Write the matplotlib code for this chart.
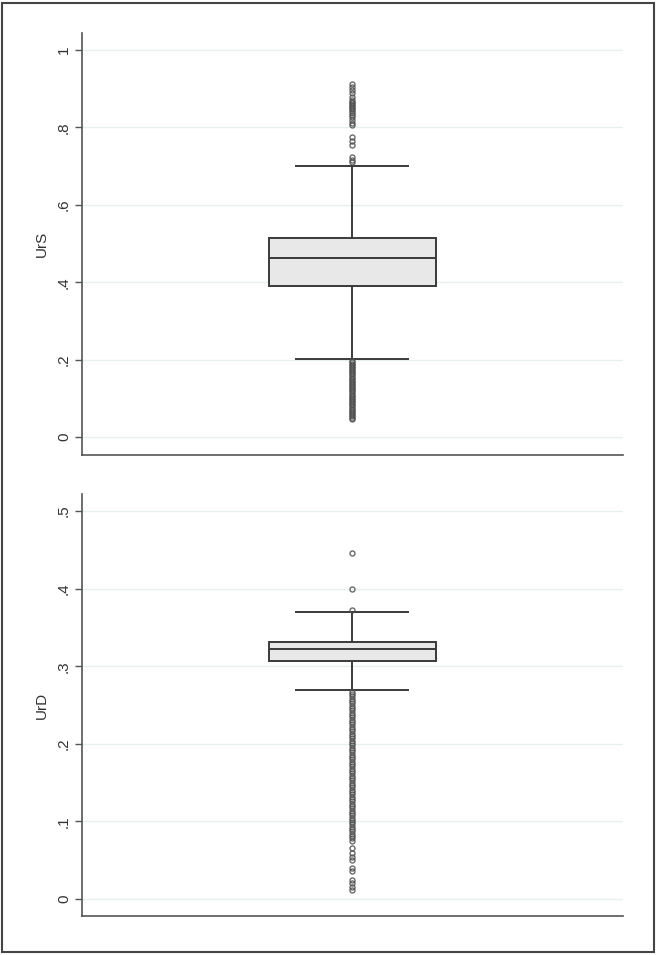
import matplotlib
matplotlib.use("Agg")
import matplotlib.pyplot as plt
from matplotlib.patches import Rectangle

plt.rcParams['font.family'] = ['Liberation Sans', 'DejaVu Sans']

# UrS box stats
urs_stats = dict(med=0.462, q1=0.390, q3=0.5135, whislo=0.201, whishi=0.700)
urs_high = [0.913, 0.905, 0.897, 0.889, 0.880, 0.872, 0.866, 0.862, 0.858, 0.855,
            0.851, 0.847, 0.843, 0.838, 0.832, 0.826, 0.820, 0.812, 0.806,
            0.775, 0.765, 0.755, 0.725, 0.717, 0.710]
urs_low = [0.198, 0.194, 0.190, 0.186, 0.182, 0.178, 0.174, 0.170, 0.166, 0.162,
           0.158, 0.154, 0.150, 0.146, 0.142, 0.138, 0.134, 0.130, 0.126, 0.122,
           0.118, 0.114, 0.110, 0.106, 0.102, 0.098, 0.094, 0.090, 0.086, 0.082,
           0.078, 0.074, 0.070, 0.066, 0.062, 0.058, 0.054, 0.050, 0.047]

# UrD box stats
urd_stats = dict(med=0.322, q1=0.3067, q3=0.331, whislo=0.269, whishi=0.370)
urd_high = [0.4457, 0.399, 0.372]
urd_low = [0.267, 0.264, 0.261, 0.258, 0.255, 0.252, 0.249, 0.246, 0.243, 0.240,
           0.237, 0.234, 0.231, 0.228, 0.225, 0.222, 0.219, 0.216, 0.213, 0.210,
           0.207, 0.204, 0.201, 0.198, 0.195, 0.192, 0.189, 0.186, 0.183, 0.180,
           0.177, 0.174, 0.171, 0.168, 0.165, 0.162, 0.159, 0.156, 0.153, 0.150,
           0.147, 0.144, 0.141, 0.138, 0.135, 0.132, 0.129, 0.126, 0.123, 0.120,
           0.117, 0.114, 0.111, 0.108, 0.105, 0.102, 0.099, 0.096, 0.093, 0.090,
           0.087, 0.084, 0.081, 0.078, 0.075, 0.066, 0.059, 0.054, 0.050, 0.040,
           0.036, 0.024, 0.021, 0.015, 0.012]

panels = [
    ("UrS", urs_stats, urs_high + urs_low, [0, 0.2, 0.4, 0.6, 0.8, 1.0],
     ["0", ".2", ".4", ".6", ".8", "1"], (-0.046, 1.044),
     [0.1248, 0.5236, 0.8232, 0.4418]),
    ("UrD", urd_stats, urd_high + urd_low, [0, 0.1, 0.2, 0.3, 0.4, 0.5],
     ["0", ".1", ".2", ".3", ".4", ".5"], (-0.022, 0.522),
     [0.1248, 0.0408, 0.8232, 0.4419]),
]

line_col = "#3a3a3a"
fig = plt.figure(figsize=(6.57, 9.55), dpi=100)

for name, stats, fliers, ticks, labels, ylim, pos in panels:
    ax = fig.add_axes(pos)
    st = dict(stats)
    st["fliers"] = fliers
    ax.bxp([st], positions=[0.5], widths=[0.31], capwidths=[0.207],
           patch_artist=True, showfliers=True,
           boxprops=dict(facecolor="#e8e8e8", edgecolor=line_col, linewidth=1.4),
           medianprops=dict(color=line_col, linewidth=1.4),
           whiskerprops=dict(color=line_col, linewidth=1.4),
           capprops=dict(color=line_col, linewidth=1.4),
           flierprops=dict(marker="o", markersize=3.6, markerfacecolor="none",
                           markeredgecolor="#505050", markeredgewidth=1.0,
                           alpha=0.85))
    ax.set_xlim(0, 1)
    ax.set_ylim(*ylim)
    ax.set_xticks([])
    ax.set_yticks(ticks)
    ax.set_yticklabels(labels, rotation=90, va="center", fontsize=11, color="#333333")
    ax.tick_params(axis="y", length=5, width=1, color="#555555", pad=3)
    ax.grid(axis="y", color="#e6f0f1", linewidth=1)
    ax.set_axisbelow(True)
    for s in ["top", "right"]:
        ax.spines[s].set_visible(False)
    for s in ["left", "bottom"]:
        ax.spines[s].set_color("#555555")
        ax.spines[s].set_linewidth(1.2)
    ax.set_ylabel(name, fontsize=11, color="#333333", labelpad=6)

fig.patches.append(Rectangle((0.003, 0.003), 0.993, 0.994, transform=fig.transFigure,
                             fill=False, edgecolor="#444444", linewidth=1.5))

fig.savefig("out.png", dpi=100)
